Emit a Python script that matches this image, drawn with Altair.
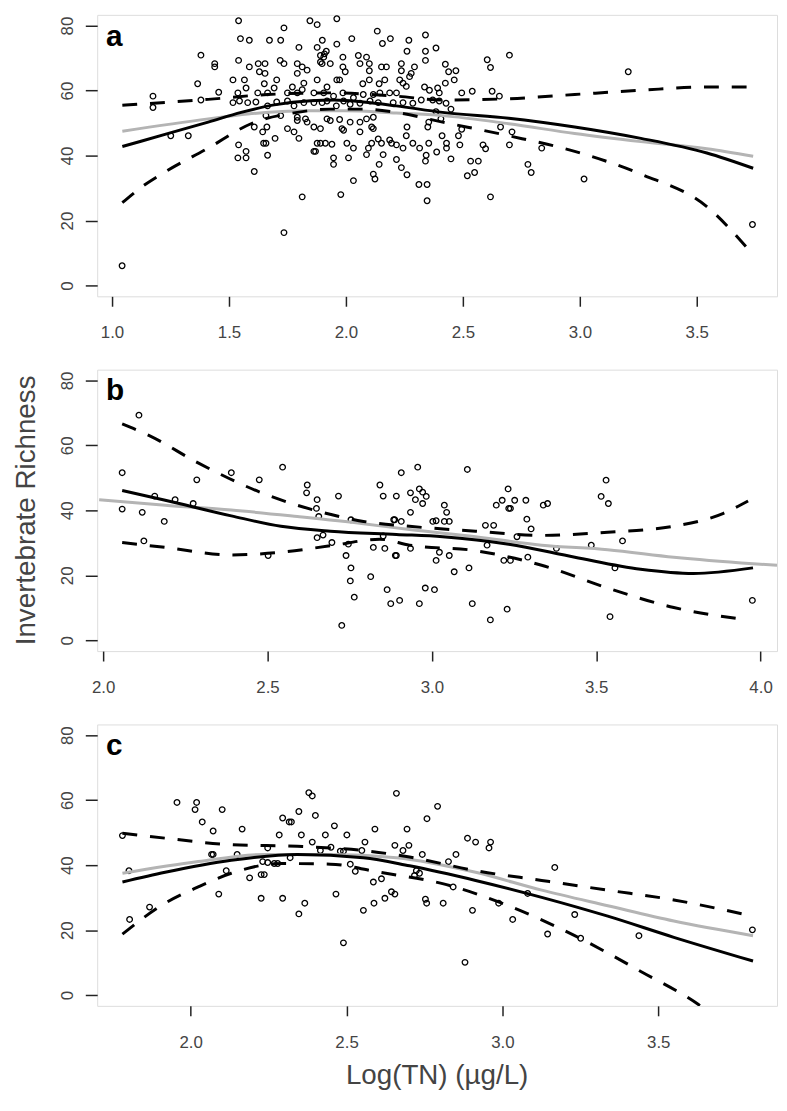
import altair as alt
import pandas as pd

# ---------------- Panel a data ----------------
A_X = [1.043, 1.326, 1.251, 1.175, 1.175,
       1.541, 1.735, 1.846, 1.877, 1.961, 2.134, 2.156, 1.549, 1.587, 1.673, 1.721, 1.799, 1.877, 1.899, 1.916,
       1.961, 2.025, 1.380, 1.541, 1.587, 1.625, 1.654, 1.630, 1.654, 1.719, 1.735, 1.792, 1.813, 1.834, 1.792,
       1.439, 1.439, 1.891, 1.905, 1.891, 1.898, 1.933, 1.908, 1.987, 1.987, 1.997, 2.053, 2.088, 2.060, 2.100,
       2.152, 2.100, 1.366, 1.517, 1.566, 1.651, 1.704, 1.771, 1.820, 1.877, 1.919, 1.961, 1.973, 2.072, 2.100,
       2.142, 2.166, 1.456, 1.380, 1.538, 1.573, 1.623, 1.665, 1.693, 1.750, 1.792, 1.813, 1.863, 1.905, 1.947,
       1.987, 2.032, 2.074, 2.117, 2.145, 1.517, 1.545, 1.580, 1.615, 1.665, 1.704, 1.750, 1.778, 1.820, 1.863,
       1.898, 1.919, 1.959, 1.990, 2.018, 2.060, 2.103, 2.138, 1.658, 1.721, 1.792, 1.792, 1.827, 1.834, 1.919,
       1.933, 1.973, 2.018, 2.060, 2.088, 2.117, 1.608, 1.662, 1.644, 1.750, 1.778, 1.863, 1.891, 1.983, 1.990,
       2.060, 2.110, 2.117, 1.658, 1.648, 1.697, 1.799, 1.877, 1.891, 1.912, 1.940, 2.004, 2.032, 2.096, 2.138,
       2.152, 2.110, 1.541, 1.573, 1.538, 1.573, 1.665, 1.863, 1.870, 1.947, 1.947, 2.011, 2.088, 2.159, 1.608,
       2.032, 2.117, 2.124, 2.142, 1.813, 1.978, 1.735,
       2.340, 2.190, 2.269, 2.261, 2.385, 2.340, 2.340, 2.173, 2.237, 2.237, 2.293, 2.279, 2.272, 2.425, 2.439,
       2.470, 2.463, 2.230, 2.244, 2.258, 2.336, 2.357, 2.392, 2.399, 2.425, 2.495, 2.540, 2.604, 2.618, 2.699,
       2.625, 2.656, 2.187, 2.216, 2.202, 2.244, 2.286, 2.322, 2.371, 2.399, 2.428, 2.449, 2.385, 2.406, 2.261,
       2.350, 2.354, 2.258, 2.411, 2.481, 2.495, 2.187, 2.195, 2.216, 2.244, 2.286, 2.315, 2.354, 2.388, 2.430,
       2.430, 2.487, 2.586, 2.597, 2.699, 2.710, 2.661, 2.216, 2.237, 2.261, 2.343, 2.340, 2.449, 2.533, 2.566,
       2.519, 2.550, 2.312, 2.347, 2.347, 2.618, 2.778, 2.792, 2.837,
       3.207, 3.018, 3.738]
A_Y = [6.1, 46.1, 46.1, 58.3, 54.8,
       81.5, 79.3, 81.5, 80.3, 82.1, 78.3, 74.5, 76.0, 75.5, 75.5, 75.5, 73.3, 73.3, 75.5, 72.1,
       74.3, 76.0, 70.9, 69.3, 67.3, 68.3, 68.3, 65.8, 65.3, 69.3, 68.3, 68.3, 67.3, 66.3, 65.3,
       68.3, 67.3, 70.8, 70.3, 68.8, 68.3, 68.3, 71.3, 70.3, 67.3, 65.8, 70.8, 70.3, 68.3, 68.3,
       67.3, 66.1, 62.1, 63.3, 63.3, 62.1, 63.3, 61.1, 62.3, 63.3, 61.1, 63.3, 63.3, 62.1, 63.3,
       62.1, 63.3, 59.5, 57.1, 59.3, 60.8, 59.3, 59.3, 60.8, 59.3, 59.3, 60.3, 59.3, 59.3, 58.3,
       59.3, 57.8, 58.8, 58.8, 59.3, 56.3, 56.8, 56.3, 56.5, 55.3, 56.5, 56.8, 55.3, 56.3, 56.3,
       56.3, 56.8, 55.3, 56.8, 55.8, 56.1, 56.8, 56.3, 52.3, 52.3, 51.8, 50.8, 51.3, 50.3, 51.3,
       50.8, 51.1, 50.3, 50.3, 51.3, 51.8, 48.8, 48.8, 47.3, 48.3, 47.3, 48.8, 48.3, 48.3, 47.8,
       47.3, 48.8, 48.3, 43.8, 43.8, 45.3, 45.3, 43.8, 43.8, 43.8, 43.5, 43.8, 42.3, 42.3, 45.1,
       43.8, 43.8, 43.3, 41.3, 39.3, 39.3, 40.1, 41.3, 41.3, 39.3, 37.3, 39.3, 40.3, 40.3, 35.1,
       32.3, 34.3, 32.8, 37.3, 27.3, 28.0, 16.3,
       77.1, 76.0, 75.5, 72.1, 73.1, 72.1, 69.3, 67.3, 68.3, 66.1, 67.3, 65.3, 64.3, 68.1, 65.8,
       66.1, 63.3, 63.3, 62.3, 61.3, 61.1, 60.1, 60.8, 59.3, 62.3, 59.3, 59.8, 69.5, 67.1, 70.9,
       59.8, 58.3, 59.3, 59.3, 56.3, 56.3, 56.1, 57.1, 57.1, 56.8, 56.1, 54.3, 53.5, 51.3, 48.8,
       48.8, 50.3, 46.1, 46.1, 46.1, 48.1, 44.8, 43.8, 43.3, 42.3, 43.8, 42.3, 43.8, 41.1, 43.8,
       42.3, 43.3, 43.3, 42.1, 43.3, 47.3, 48.8, 38.8, 36.3, 34.1, 40.1, 38.3, 39.0, 38.3, 38.3,
       33.8, 34.8, 31.1, 31.1, 26.1, 27.3, 37.3, 34.8, 42.3,
       65.8, 32.8, 18.8]

A_FIT_X = [1.044, 1.230, 1.411, 1.552, 1.693, 1.850, 1.950, 2.074, 2.215, 2.413, 2.696, 2.978, 3.261, 3.543, 3.741]
A_FIT_Y = [42.8, 46.6, 50.3, 53.3, 55.6, 56.9, 57.1, 56.5, 55.3, 53.3, 51.5, 48.8, 45.3, 40.8, 36.1]
A_GRAY_X = [1.044, 1.411, 1.580, 1.834, 2.000, 2.215, 2.413, 2.696, 2.978, 3.261, 3.543, 3.741]
A_GRAY_Y = [47.5, 51.3, 52.8, 53.8, 53.8, 53.1, 52.3, 49.8, 46.8, 44.3, 42.1, 39.8]
A_UP_X = [1.044, 1.411, 1.665, 1.933, 2.215, 2.413, 2.696, 2.978, 3.261, 3.543, 3.741]
A_UP_Y = [55.5, 57.3, 58.8, 59.3, 58.3, 57.1, 57.5, 58.8, 60.1, 61.1, 61.1]
A_LO_X = [1.044, 1.128, 1.227, 1.411, 1.594, 1.792, 1.933, 2.074, 2.215, 2.413, 2.696, 2.978, 3.261, 3.543, 3.713]
A_LO_Y = [25.5, 30.4, 35.0, 42.3, 49.8, 53.3, 54.3, 54.3, 53.3, 50.3, 46.1, 41.3, 34.3, 24.3, 11.8]

# ---------------- Panel b data ----------------
B_X = [2.058, 2.058, 2.109, 2.119, 2.124, 2.157, 2.186, 2.219, 2.274, 2.285, 2.390, 2.475, 2.502, 2.546,
       2.621, 2.619, 2.651, 2.649, 2.656, 2.651, 2.669, 2.696, 2.716, 2.726, 2.739, 2.746, 2.754, 2.754,
       2.752, 2.764, 2.814, 2.822, 2.842, 2.852, 2.852, 2.857, 2.864, 2.875, 2.884, 2.889,
       2.892, 2.907, 2.957, 2.935, 2.962, 2.972, 2.983, 2.950, 2.972, 2.935, 2.887, 2.907, 2.892, 2.935,
       2.902, 2.962, 2.980, 3.008, 3.013, 3.023, 3.053, 3.003, 3.013, 3.038, 3.053, 3.038, 3.045, 3.068,
       3.108, 3.113, 3.123, 3.163, 3.188, 3.168, 3.178, 3.196, 3.214, 3.232, 3.234, 3.239, 3.252, 3.286,
       3.219, 3.239, 3.229, 3.259, 3.289, 3.302, 3.292, 3.339, 3.352, 3.379, 3.485, 3.515, 3.530, 3.537,
       3.542, 3.557, 3.580, 3.975]
B_Y = [51.6, 40.4, 69.3, 39.4, 30.6, 44.4, 36.6, 43.3, 42.1, 49.4, 51.6, 49.4, 26.1, 53.3,
       47.8, 45.4, 43.3, 40.6, 38.1, 31.6, 32.4, 30.1, 44.4, 4.6, 26.1, 29.6, 37.1, 22.3,
       18.3, 13.3, 19.6, 28.6, 47.8, 44.4, 32.1, 28.3, 15.6, 11.3, 37.1, 26.1,
       44.4, 51.6, 53.3, 45.4, 46.6, 45.6, 44.3, 43.3, 42.1, 39.4, 37.1, 36.6, 26.1, 28.3,
       12.3, 11.3, 16.1, 15.6, 24.6, 27.1, 26.1, 36.6, 36.8, 36.6, 36.6, 41.6, 39.4, 21.1,
       52.6, 22.3, 11.3, 35.4, 35.4, 29.3, 6.3, 41.6, 43.1, 46.6, 40.6, 40.6, 43.1, 43.1,
       24.6, 24.6, 9.6, 31.9, 37.3, 34.3, 25.6, 41.6, 42.1, 28.3, 29.3, 44.3, 49.3, 42.1,
       7.3, 22.3, 30.6, 12.3]

B_FIT_X = [2.058, 2.189, 2.390, 2.541, 2.691, 2.892, 3.033, 3.234, 3.435, 3.635, 3.796, 3.977]
B_FIT_Y = [46.1, 43.1, 38.3, 35.1, 33.6, 32.6, 31.9, 29.6, 25.6, 21.9, 20.6, 22.3]
B_GRAY_X = [1.988, 2.189, 2.390, 2.591, 2.792, 2.932, 3.133, 3.334, 3.535, 3.736, 3.977, 4.050]
B_GRAY_Y = [43.3, 41.6, 40.1, 38.1, 35.9, 34.1, 31.9, 29.3, 27.9, 25.6, 23.6, 23.1]
B_UP_X = [2.058, 2.139, 2.289, 2.490, 2.641, 2.792, 2.932, 3.133, 3.334, 3.535, 3.736, 3.887, 3.962]
B_UP_Y = [66.6, 63.1, 54.6, 45.1, 40.1, 36.6, 35.1, 33.6, 32.3, 33.3, 35.1, 39.1, 42.9]
B_LO_X = [2.058, 2.189, 2.390, 2.541, 2.691, 2.842, 2.932, 3.133, 3.334, 3.535, 3.736, 3.937]
B_LO_Y = [30.1, 28.6, 26.3, 27.1, 29.1, 31.1, 29.3, 27.6, 23.1, 16.1, 10.1, 6.6]

# ---------------- Panel c data ----------------
C_X = [1.781, 1.802, 1.804, 1.868, 1.956, 2.019, 2.014, 2.037, 2.072, 2.067, 2.072, 2.090, 2.101, 2.114,
       2.149, 2.165, 2.189, 2.226, 2.226, 2.236, 2.231, 2.247, 2.268, 2.279, 2.247, 2.284, 2.295, 2.316,
       2.323, 2.295, 2.319, 2.347, 2.355, 2.347, 2.366, 2.379, 2.390, 2.390, 2.400, 2.416, 2.432, 2.450,
       2.461, 2.466, 2.480, 2.490, 2.490, 2.501, 2.512, 2.528, 2.549, 2.559, 2.554, 2.586, 2.591, 2.588,
       2.612, 2.623, 2.644, 2.655, 2.655, 2.660,
       2.792, 2.758, 2.694, 2.681, 2.700, 2.743, 2.724, 2.734, 2.718, 2.753, 2.757, 2.810, 2.827, 2.851,
       2.888, 2.914, 2.962, 2.957, 2.904, 2.880, 2.842, 2.988, 3.033, 3.081, 3.145, 3.168, 3.232, 3.251,
       3.438, 3.802]
C_Y = [49.1, 38.3, 23.3, 27.1, 59.3, 59.3, 57.1, 53.3, 50.5, 43.3, 43.3, 31.1, 57.1, 38.3,
       43.3, 51.1, 36.1, 29.8, 37.1, 37.1, 41.1, 40.8, 40.5, 40.5, 45.3, 49.3, 54.5, 53.3,
       53.3, 29.8, 42.3, 56.5, 49.3, 25.0, 28.3, 62.3, 61.3, 47.1, 55.3, 44.5, 49.3, 45.5,
       52.1, 31.1, 44.3, 44.3, 16.1, 49.3, 40.3, 38.1, 44.5, 47.1, 26.1, 34.8, 51.1, 28.3,
       35.8, 29.8, 31.8, 31.1, 46.1, 62.1,
       58.1, 54.3, 51.1, 44.5, 46.1, 43.3, 38.3, 37.5, 36.8, 29.5, 28.3, 28.3, 41.1, 43.3,
       48.3, 47.1, 47.1, 45.3, 26.1, 10.1, 33.3, 28.3, 23.3, 31.3, 18.8, 39.3, 24.8, 17.5,
       18.3, 20.1]

C_FIT_X = [1.781, 1.918, 2.130, 2.342, 2.554, 2.702, 2.914, 3.126, 3.338, 3.550, 3.804]
C_FIT_Y = [34.8, 37.8, 41.5, 43.3, 42.3, 39.8, 35.3, 30.1, 24.3, 17.8, 10.5]
C_GRAY_X = [1.781, 2.024, 2.236, 2.448, 2.660, 2.914, 3.126, 3.338, 3.550, 3.804]
C_GRAY_Y = [37.5, 41.1, 43.3, 43.3, 42.3, 37.8, 32.3, 27.5, 22.8, 18.3]
C_UP_X = [1.781, 1.918, 2.130, 2.342, 2.554, 2.702, 2.914, 3.126, 3.338, 3.550, 3.793]
C_UP_Y = [49.8, 48.3, 46.3, 45.8, 44.5, 42.5, 38.3, 35.3, 32.3, 29.3, 24.5]
C_LO_X = [1.781, 1.918, 2.024, 2.130, 2.289, 2.448, 2.607, 2.808, 3.020, 3.232, 3.444, 3.629, 3.700]
C_LO_Y = [18.8, 28.3, 33.3, 37.5, 40.5, 40.3, 37.8, 34.3, 27.5, 18.3, 7.3, -2.9, -8.0]

Y_DOMAIN = [-3.3, 83.3]
Y_TICKS = [0, 20, 40, 60, 80]
W = 686
H = 284
FONT = "Liberation Sans"


def panel(px, py, curves, xdom, xticks, letter, extra=None):
    xs = alt.Scale(domain=xdom, nice=False, zero=False)
    ys = alt.Scale(domain=Y_DOMAIN, nice=False, zero=False)
    xa = alt.Axis(values=xticks, format=".1f", title=None, grid=False, domain=False,
                  tickSize=10, tickWidth=1.5, tickColor="#222", labelPadding=19,
                  labelFontSize=17, labelFont=FONT, labelColor="#444", labelFlush=False)
    ya = alt.Axis(values=Y_TICKS, title=None, grid=False, domain=False,
                  tickSize=12, tickWidth=1.5, tickColor="#222", labelPadding=13,
                  labelAngle=270, labelAlign="center", labelBaseline="alphabetic",
                  labelFontSize=17, labelFont=FONT, labelColor="#444")
    pts = pd.DataFrame({"x": px, "y": py})
    layers = [
        alt.Chart(pts).mark_point(shape="circle", filled=False, color="black",
                                  size=32, strokeWidth=1.3, opacity=1)
        .encode(x=alt.X("x:Q", scale=xs, axis=xa), y=alt.Y("y:Q", scale=ys, axis=ya))
    ]
    for cx, cy, color, dash in curves:
        d = pd.DataFrame({"x": cx, "y": cy})
        kw = dict(color=color, strokeWidth=3, interpolate="monotone", clip=True)
        if dash:
            kw["strokeDash"] = [15, 13]
        layers.append(
            alt.Chart(d).mark_line(**kw).encode(
                x=alt.X("x:Q", scale=xs, axis=xa), y=alt.Y("y:Q", scale=ys, axis=ya))
        )
    layers.append(
        alt.Chart(pd.DataFrame({"t": [letter]})).mark_text(
            align="left", baseline="alphabetic", fontSize=30, fontWeight="bold",
            font=FONT, color="black").encode(x=alt.value(9), y=alt.value(31), text="t:N")
    )
    if extra is not None:
        layers.extend(extra)
    return alt.layer(*layers).properties(width=W, height=H)


ytitle = alt.Chart(pd.DataFrame({"t": ["Invertebrate Richness"]})).mark_text(
    align="center", baseline="alphabetic", angle=270, fontSize=28, font=FONT, color="#444"
).encode(x=alt.value(-63), y=alt.value(H / 2), text="t:N")

xtitle = alt.Chart(pd.DataFrame({"t": ["Log(TN) (µg/L)"]})).mark_text(
    align="center", baseline="alphabetic", fontSize=28, font=FONT, color="#444"
).encode(x=alt.value(W / 2), y=alt.value(H + 79), text="t:N")

GRAY = "#b4b4b4"
pa = panel(A_X, A_Y,
           [(A_GRAY_X, A_GRAY_Y, GRAY, False), (A_UP_X, A_UP_Y, "black", True),
            (A_LO_X, A_LO_Y, "black", True), (A_FIT_X, A_FIT_Y, "black", False)],
           [0.9365, 3.843], [1.0, 1.5, 2.0, 2.5, 3.0, 3.5], "a")
pb = panel(B_X, B_Y,
           [(B_GRAY_X, B_GRAY_Y, GRAY, False), (B_UP_X, B_UP_Y, "black", True),
            (B_LO_X, B_LO_Y, "black", True), (B_FIT_X, B_FIT_Y, "black", False)],
           [1.982, 4.05], [2.0, 2.5, 3.0, 3.5, 4.0], "b", extra=[ytitle])
pc = panel(C_X, C_Y,
           [(C_GRAY_X, C_GRAY_Y, GRAY, False), (C_UP_X, C_UP_Y, "black", True),
            (C_LO_X, C_LO_Y, "black", True), (C_FIT_X, C_FIT_Y, "black", False)],
           [1.700, 3.881], [2.0, 2.5, 3.0, 3.5], "c", extra=[xtitle])

chart = alt.vconcat(pa, pb, pc, spacing=74, bounds="flush").properties(
    padding={"left": 4, "top": 0, "right": 1, "bottom": 0}
).configure_view(
    stroke="#222", strokeWidth=1.5, fill="white"
).configure(background="white")

chart.save("out.html", embed_options={"renderer": "svg", "actions": False})
